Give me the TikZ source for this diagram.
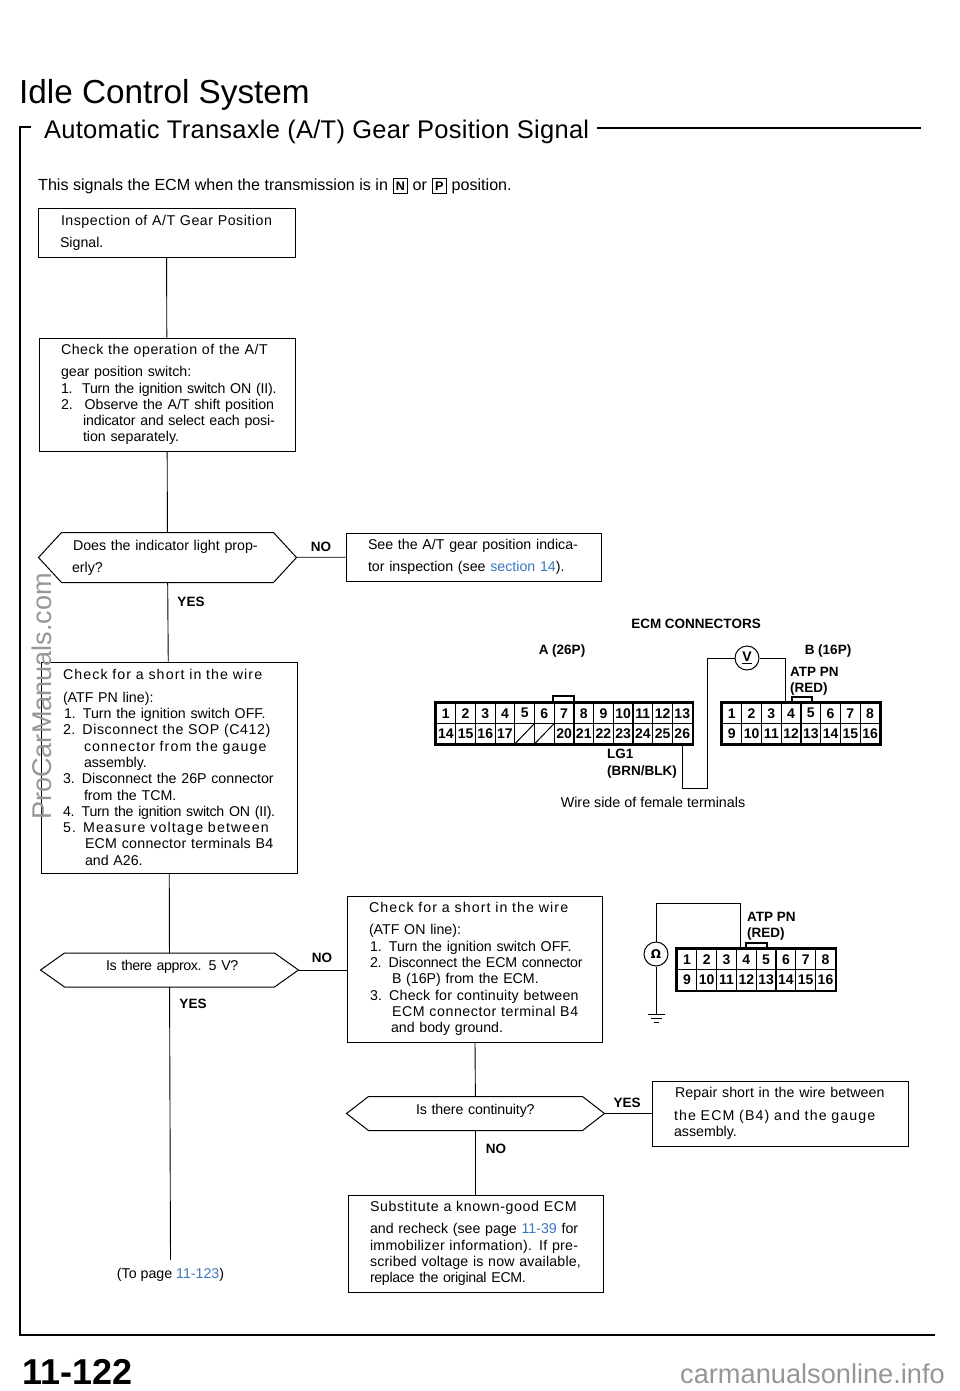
\documentclass[tikz,border=0pt]{standalone}
\usepackage{fontspec}
\setmainfont{Liberation Sans}
\definecolor{linkblue}{RGB}{58,118,190}
\definecolor{markgray}{RGB}{150,150,150}
\newcommand{\pagelink}[1]{\textcolor{linkblue}{#1}}
\newcommand{\lsp}[2]{{\addfontfeatures{LetterSpace=#1}#2}}
\newcommand{\keybox}[1]{\tikz[baseline=(k.base)]\node[draw,line width=1.2pt,inner sep=0pt,minimum size=14.5pt,font=\fontsize{12.5}{12.5}\selectfont\bfseries] (k) {#1};}
\newcommand{\flowhex}[2]{\draw[line width=1pt] (#1.west) -- ([xshift=#2]#1.north west) -- ([xshift=-#2]#1.north east) -- (#1.east) -- ([xshift=-#2]#1.south east) -- ([xshift=#2]#1.south west) -- cycle;}
\tikzset{
  flowbox/.style={draw, line width=1pt, align=left, inner xsep=4pt, inner ysep=0pt,
    font=\fontsize{14.2}{16.3}\selectfont, text width=#1-8pt, minimum width=#1,
    execute at begin node={\leftskip=18pt \vspace*{6pt}}},
  flowdia/.style={flowbox=257pt, draw=none},
  answer/.style={font=\fontsize{13.5}{14}\selectfont\bfseries},
  pinlabel/.style={font=\fontsize{13.5}{13.5}\selectfont\bfseries, inner sep=0pt},
  wirelabel/.style={pinlabel, align=left, anchor=north west, font=\fontsize{13.5}{16.5}\selectfont\bfseries},
  pincell/.style={draw, line width=1.2pt, minimum width=19.7pt, minimum height=20.5pt, inner sep=0pt,
    font=\fontsize{14}{14}\selectfont\bfseries},
  meter/.style={circle, draw, line width=1pt, fill=white, minimum size=24pt, inner sep=0pt,
    font=\fontsize{14}{14}\selectfont\bfseries},
  wire/.style={line width=1pt},
  flow/.style={line width=.9pt}
}
\begin{document}
\begin{tikzpicture}[x=1pt, y=-1pt]
\useasboundingbox (0,0) rectangle (960,1391);
% headings
\node[anchor=west, inner sep=0pt, font=\fontsize{33.3}{33}\selectfont] (title) at (19,95) {Idle Control System};
\node[anchor=west, inner sep=0pt, font=\fontsize{25.5}{27}\selectfont\addfontfeatures{LetterSpace=1}] (subtitle) at (44,132) {Automatic Transaxle (A/T) Gear Position Signal};
\node[anchor=west, inner sep=0pt, font=\fontsize{16.1}{16}\selectfont] (intro) at (38,186) {This signals the ECM when the transmission is in \keybox{N} or \keybox{P} position.};
% page frame
\draw[line width=1.6pt] (31,127) -- (20,127) -- (20,1335) -- (935,1335);
\draw[line width=1.6pt] (597,128) -- (921,128);
% left column
\node[flowbox=257pt, minimum height=49pt] (insp) at (166.5,232.5) {\hspace*{1pt}\lsp{3.6}{Inspection of A/T Gear Position}\\Signal.};
\node[flowbox=256pt, minimum height=113pt] (oper) at (167,394.5) {\lsp{3.8}{Check the operation of the A/T}\\gear position switch:\\\lsp{-1.5}{1.\ \ Turn the ignition switch ON (II).}\\2. \ Observe the A/T shift position\\\hspace*{22pt}\lsp{-1}{indicator and select each posi-}\\\hspace*{22pt}tion separately.};
\node[flowdia, minimum height=49pt] (light) at (167.5,557.5) {\hspace*{12pt}Does the indicator light prop-\\\hspace*{11pt}erly?};
\flowhex{light}{23pt}
\node[flowbox=256pt, minimum height=211pt] (shortpn) at (169,767.5) {\lsp{7.8}{Check for a short in the wire}\\(ATF PN line):\\\hspace*{1pt}1. Turn the ignition switch OFF.\\\lsp{4}{2. Disconnect the SOP (C412)}\\\hspace*{21pt}\lsp{7.6}{connector from the gauge}\\\hspace*{21pt}assembly.\\3. Disconnect the 26P connector\\\hspace*{21pt}from the TCM.\\\lsp{-1.8}{4. Turn the ignition switch ON (II).}\\\lsp{8.4}{5. Measure voltage between}\\\hspace*{22pt}\lsp{1.9}{ECM connector terminals B4}\\\hspace*{22pt}and A26.};
\node[flowdia, minimum height=33pt] (volts) at (169.5,970) {\hspace*{43pt}\lsp{-3}{Is there approx. 5 V?}};
\flowhex{volts}{24pt}
\node[inner sep=0pt, font=\fontsize{14.2}{16}\selectfont] (topage) at (170.5,1275) {(To page \pagelink{11-123})};
% right column
\node[flowbox=255pt, minimum height=48pt] (see) at (473.5,557) {See the A/T gear position indica-\\tor inspection (see \pagelink{section 14}).};
\node[flowbox=255pt, minimum height=146pt] (shorton) at (474.5,969) {\lsp{7.8}{Check for a short in the wire}\\(ATF ON line):\\\hspace*{1pt}1. Turn the ignition switch OFF.\\\hspace*{1pt}\lsp{-1.4}{2. Disconnect the ECM connector}\\\hspace*{23pt}B (16P) from the ECM.\\\hspace*{1pt}\lsp{1.6}{3. Check for continuity between}\\\hspace*{23pt}\lsp{4}{ECM connector terminal B4}\\\hspace*{22pt}and body ground.};
\node[flowdia, minimum height=33pt] (cont) at (475.5,1113.5) {\hspace*{47pt}\lsp{-1}{Is there continuity?}};
\flowhex{cont}{22pt}
\node[flowbox=256pt, minimum height=65pt] (repair) at (780,1113.5) {\hspace*{1pt}\lsp{.7}{Repair short in the wire between}\\\lsp{7.8}{the ECM (B4) and the gauge}\\assembly.};
\node[flowbox=255pt, minimum height=97pt] (subst) at (475.5,1243.5) {\lsp{4.4}{Substitute a known-good ECM}\\and recheck (see page \pagelink{11-39} for\\\lsp{2.1}{immobilizer information). If pre-}\\\lsp{1.2}{scribed voltage is now available,}\\\lsp{-2.3}{replace the original ECM.}};
% flow lines
\draw[flow] (insp) -- (oper);
\draw[flow] (oper) -- (light);
\draw[flow] (light) -- (shortpn);
\draw[flow] (shortpn) -- (volts);
\draw[flow] (volts) -- ([yshift=8pt]topage.north);
\draw[flow] (light) -- (see);
\draw[flow] (volts.east) -- (volts.east -| shorton.west);
\draw[flow] (shorton) -- (cont);
\draw[flow] (cont) -- (subst);
\draw[flow] (cont) -- (repair);
% answers
\node[answer] (lightno) at (321,547) {NO};
\node[answer] (lightyes) at (191,602) {YES};
\node[answer] (voltsno) at (322,958) {NO};
\node[answer] (voltsyes) at (193,1004) {YES};
\node[answer] (contyes) at (627,1103) {YES};
\node[answer] (contno) at (496,1149) {NO};
% ECM connectors
\node[pinlabel] (ecmhead) at (696,624) {ECM CONNECTORS};
\node[pinlabel] (ahead) at (562,651) {A (26P)};
\node[pinlabel] (bhead) at (828,651) {B (16P)};
\node[wirelabel] (atp) at (790,667) {ATP PN\\(RED)};
\node[wirelabel] (lg) at (607,749) {LG1\\(BRN/BLK)};
\node[inner sep=0pt, font=\fontsize{14.3}{14}\selectfont] (wireside) at (653,802) {Wire side of female terminals};
% A (26P)
\draw[line width=1.8pt] (553,703) -- (553,696) -- (574,696) -- (574,703);
\foreach \n in {1,...,13} {
  \node[pincell] (a\n) at ({436+19.7*(\n-.5)},713.2) {\n};
}
\foreach \n [evaluate=\n as \k using int(\n+13)] in {1,...,13} {
  \ifnum\n=5 \node[pincell] (a\k) at ({436+19.7*(\n-.5)},733.7) {};
  \else\ifnum\n=6 \node[pincell] (a\k) at ({436+19.7*(\n-.5)},733.7) {};
  \else \node[pincell] (a\k) at ({436+19.7*(\n-.5)},733.7) {\k};
  \fi\fi
}
\draw[line width=1pt] (a18.south west) -- (a18.north east);
\draw[line width=1pt] (a19.south west) -- (a19.north east);
\draw[line width=2.4pt] (a1.north west) rectangle (a26.south east);
% B (16P)
\draw[line width=1.8pt] (792,703) -- (792,697) -- (812,697) -- (812,703);
\foreach \n in {1,...,8} {
  \node[pincell] (b\n) at ({722+19.75*(\n-.5)},713.2) {\n};
}
\foreach \n [evaluate=\n as \k using int(\n+8)] in {1,...,8} {
  \node[pincell] (b\k) at ({722+19.75*(\n-.5)},733.7) {\k};
}
\draw[line width=2.4pt] (b1.north west) rectangle (b16.south east);
% voltmeter
\node[meter] (vm) at (747,658) {\underline{V}};
\coordinate (vturn) at (707,788);
\draw[wire] (a26.south) |- (vturn) |- (vm.west);
\draw[wire] (vm.east) -| ([xshift=-6pt]b4.north);
% continuity connector
\draw[line width=1.8pt] (746,949) -- (746,943) -- (767,943) -- (767,949);
\foreach \n in {1,...,8} {
  \node[pincell] (c\n) at ({677+19.8*(\n-.5)},959.4) {\n};
}
\foreach \n [evaluate=\n as \k using int(\n+8)] in {1,...,8} {
  \node[pincell] (c\k) at ({677+19.8*(\n-.5)},980) {\k};
}
\draw[line width=2.4pt] (c1.north west) rectangle (c16.south east);
\node[wirelabel] (atptwo) at (747,912) {ATP PN\\(RED)};
% ohmmeter and ground
\node[meter] (ohm) at (656,954) {\fontspec{DejaVu Sans Bold}\fontsize{12}{12}\selectfont Ω};
\coordinate (gnd) at (656,1014);
\coordinate (ohmturn) at (656,903);
\draw[wire] (ohm.north) -- (ohmturn) -| ([xshift=-6pt]c4.north);
\draw[wire] (ohm.south) -- (gnd);
\draw[wire] ([xshift=-8.5pt]gnd) -- ([xshift=8.5pt]gnd);
\draw[wire] ([xshift=-5.5pt,yshift=-4pt]gnd) -- ([xshift=5.5pt,yshift=-4pt]gnd);
\draw[wire] ([xshift=-2.5pt,yshift=-8pt]gnd) -- ([xshift=2.5pt,yshift=-8pt]gnd);
% page number and site marks
\node[anchor=west, inner sep=0pt, font=\fontsize{36}{36}\selectfont\bfseries] (pageno) at (22,1372) {11-122};
\node[anchor=east, inner sep=0pt, text=markgray, font=\fontsize{27.2}{27}\selectfont] (sitemark) at (945,1374) {carmanualsonline.info};
\node[rotate=90, anchor=west, inner sep=0pt, text=markgray, font=\fontsize{27.1}{27}\selectfont] (promark) at (42,820) {ProCarManuals.com};
\end{tikzpicture}
\end{document}
